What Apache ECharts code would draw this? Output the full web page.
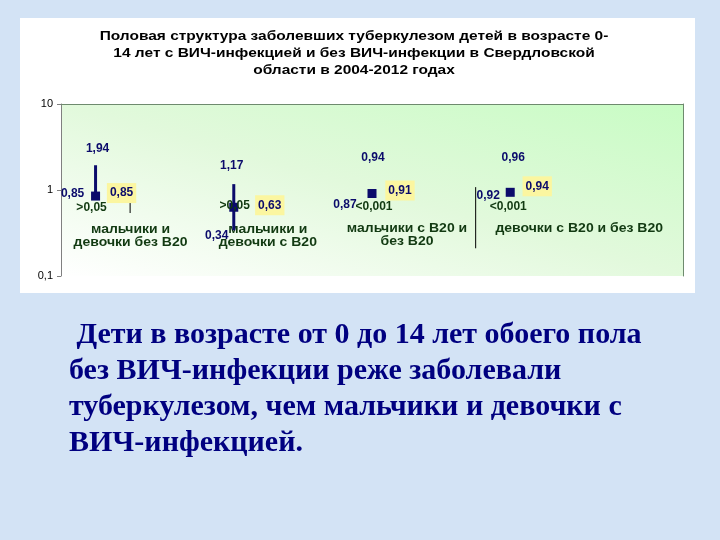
<!DOCTYPE html>
<html>
<head>
<meta charset="utf-8">
<script src="https://cdn.jsdelivr.net/npm/echarts@6/dist/echarts.min.js"></script>
<style>
  html, body { margin: 0; padding: 0; background: #d3e3f5; }
  #chart { width: 720px; height: 540px; }
</style>
</head>
<body>
<div id="chart"></div>
<script>
// ---- data ----
const categories = ['мальчики и\nдевочки без В20', 'мальчики и\nдевочки с В20', 'мальчики с В20 и\nбез В20', 'девочки с В20 и без В20'];
const categoryPos = [1, 2, 3, 4];
const estimate = [0.85, 0.63, 0.91, 0.94];
const lower = [0.85, 0.34, 0.87, 0.92];
const upper = [1.94, 1.17, 0.94, 0.96];
const pValues = ['>0,05', '>0,05', '<0,001', '<0,001'];
const yTicks = [0.1, 1, 10];
const thinLineX = [1.25, 3.75];
const thinLineLow = [0.54, 0.21];
const thinLineHigh = [1.0, 1.08];

const titleText = 'Половая структура заболевших туберкулезом детей в возрасте 0-\n14 лет с ВИЧ-инфекцией и без ВИЧ-инфекции в Свердловской\nобласти в 2004-2012 годах';
const noteText = ' Дети в возрасте от 0 до 14 лет обоего пола\nбез ВИЧ-инфекции реже заболевали\nтуберкулезом, чем мальчики и девочки с\nВИЧ-инфекцией.';

// ---- label layout offsets (px), style only ----
const highOff = [[2, -17], [-2, -18], [1, -35], [3, -34]];
const lowOff = [[-23, -2], [-17, 5], [-27, 9], [-22, 3]];
const estOff = [[26, -3], [36, -2], [28, -3], [27, -6]];
const pOff = [[-4, 12], [1, -2], [2, 13], [-2, 14]];
const catOff = [[35, 27], [34, 16], [35, 29], [69, 30]];

const fmt = v => v.toFixed(2).replace('.', ',');
const navy = '#0b0b6b';
const dkGreen = '#123a12';

const forestData = categoryPos.map((x, i) => [x, lower[i], estimate[i], upper[i], i]);
const thinData = thinLineX.map((x, i) => [x, thinLineLow[i], thinLineHigh[i]]);

const chart = echarts.init(document.getElementById('chart'));
chart.setOption({
  backgroundColor: '#d3e3f5',
  animation: false,
  graphic: [
    { type: 'rect', z: -10, shape: { x: 20, y: 18, width: 675, height: 275 }, style: { fill: '#ffffff' } },
    { type: 'text', z: 10, x: 354, y: 28, scaleX: 1.19, style: { text: titleText, x: 0, y: 0, fill: '#000', font: 'bold 13px "Liberation Sans", Arial, sans-serif', textAlign: 'center', lineHeight: 17 } },
    { type: 'text', z: 10, x: 69, y: 317, style: { text: noteText, fill: '#000080', font: 'bold 30px "Liberation Serif", "Times New Roman", serif', textAlign: 'left', lineHeight: 36 } }
  ],
  grid: {
    left: 61, top: 104, right: 37, bottom: 264,
    show: true, borderWidth: 0,
    backgroundColor: { type: 'linear', x: 0, y: 1, x2: 0.142, y2: -0.858, colorStops: [
      { offset: 0, color: '#ffffff' }, { offset: 0.5, color: '#e2f9dc' }, { offset: 1, color: '#c8fcc4' } ] }
  },
  xAxis: {
    type: 'value', min: 0.75, max: 5.25, position: 'top',
    axisLine: { show: true, onZero: false, lineStyle: { color: '#6e8a6e', width: 1 } },
    axisTick: { show: false }, axisLabel: { show: false }, splitLine: { show: false }
  },
  yAxis: [{
    type: 'log', logBase: 10, min: yTicks[0], max: yTicks[yTicks.length - 1],
    axisLine: { show: true, lineStyle: { color: '#808080', width: 1 } },
    axisTick: { show: true, length: 4, lineStyle: { color: '#808080' } },
    axisLabel: { margin: 8, color: '#000', fontSize: 11, fontFamily: 'Liberation Sans, Arial, sans-serif',
      formatter: v => String(v).replace('.', ',') },
    splitLine: { show: false }
  }, {
    type: 'log', logBase: 10, min: yTicks[0], max: yTicks[yTicks.length - 1], position: 'right',
    axisLine: { show: true, lineStyle: { color: '#6e8a6e', width: 1 } },
    axisTick: { show: false }, axisLabel: { show: false }, splitLine: { show: false }
  }],
  series: [{
    type: 'custom',
    data: thinData,
    z: 3,
    renderItem: (params, api) => {
      const a = api.coord([api.value(0), api.value(1)]);
      const b = api.coord([api.value(0), api.value(2)]);
      return { type: 'line', shape: { x1: a[0], y1: a[1], x2: b[0], y2: b[1] }, style: { stroke: '#000', lineWidth: 1 } };
    }
  }, {
    type: 'custom',
    data: forestData,
    z: 5,
    renderItem: (params, api) => {
      const i = api.value(4);
      const x = api.value(0);
      const lo = api.coord([x, api.value(1)]);
      const es = api.coord([x, api.value(2)]);
      const hi = api.coord([x, api.value(3)]);
      const valFont = 'bold 12px "Liberation Sans", Arial, sans-serif';
      return { type: 'group', children: [
        { type: 'text', x: es[0] + catOff[i][0], y: es[1] + catOff[i][1], scaleX: 1.12,
          style: { text: categories[i], x: 0, y: 0, fill: dkGreen,
          font: 'bold 12.5px "Liberation Sans", Arial, sans-serif', textAlign: 'center', textVerticalAlign: 'top', lineHeight: 13 } },
        { type: 'line', shape: { x1: lo[0], y1: lo[1], x2: hi[0], y2: hi[1] }, style: { stroke: navy, lineWidth: 3 } },
        { type: 'rect', shape: { x: es[0] - 4.5, y: es[1] - 4.5, width: 9, height: 9 }, style: { fill: navy } },
        { type: 'text', style: { text: fmt(upper[i]), x: hi[0] + highOff[i][0], y: hi[1] + highOff[i][1], fill: navy, font: valFont, textAlign: 'center', textVerticalAlign: 'middle' } },
        { type: 'text', style: { text: fmt(lower[i]), x: lo[0] + lowOff[i][0], y: lo[1] + lowOff[i][1], fill: navy, font: valFont, textAlign: 'center', textVerticalAlign: 'middle' } },
        { type: 'text', style: { text: fmt(estimate[i]), x: es[0] + estOff[i][0], y: es[1] + estOff[i][1], fill: navy, font: valFont, textAlign: 'center', textVerticalAlign: 'middle',
          backgroundColor: '#fbf6a0', padding: [4, 3, 4, 3] } },
        { type: 'text', style: { text: pValues[i], x: es[0] + pOff[i][0], y: es[1] + pOff[i][1], fill: dkGreen, font: valFont, textAlign: 'center', textVerticalAlign: 'middle' } }
      ] };
    }
  }]
});
</script>
</body>
</html>
